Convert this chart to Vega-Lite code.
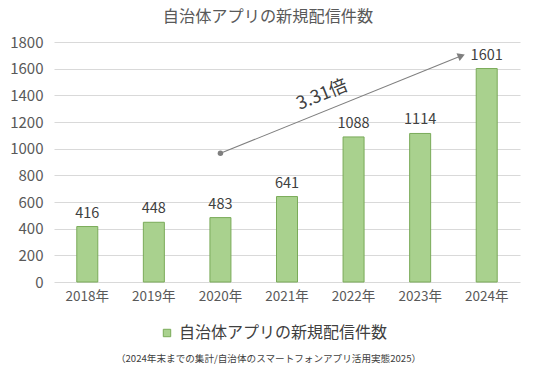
{
  "$schema": "https://vega.github.io/schema/vega-lite/v6.json",
  "autosize": "none",
  "width": 466,
  "height": 240,
  "padding": {"left": 54, "top": 42, "right": 16, "bottom": 85},
  "background": "white",
  "config": {
    "font": "Noto Sans CJK JP",
    "view": {"stroke": null},
    "axis": {"labelColor": "#595959", "labelFont": "Noto Sans CJK JP", "titleFont": "Noto Sans CJK JP"}
  },
  "title": {
    "text": "自治体アプリの新規配信件数",
    "fontSize": 16.2,
    "fontWeight": "normal",
    "color": "#595959",
    "offset": 10,
    "dx": -19,
    "anchor": "middle"
  },
  "resolve": {"scale": {"x": "independent"}, "axis": {"y": "independent"}},
  "layer": [
    {
      "data": {
        "values": [
          {"year": "2018年", "count": 416, "series": "自治体アプリの新規配信件数"},
          {"year": "2019年", "count": 448, "series": "自治体アプリの新規配信件数"},
          {"year": "2020年", "count": 483, "series": "自治体アプリの新規配信件数"},
          {"year": "2021年", "count": 641, "series": "自治体アプリの新規配信件数"},
          {"year": "2022年", "count": 1088, "series": "自治体アプリの新規配信件数"},
          {"year": "2023年", "count": 1114, "series": "自治体アプリの新規配信件数"},
          {"year": "2024年", "count": 1601, "series": "自治体アプリの新規配信件数"}
        ]
      },
      "encoding": {
        "x": {
          "field": "year", "type": "nominal", "sort": null,
          "scale": {"paddingInner": 0, "paddingOuter": 0},
          "axis": {
            "labelAngle": 0, "labelFontSize": 13.5, "labelPadding": 7,
            "ticks": false, "domain": false, "grid": false,
            "title": "（2024年末までの集計/自治体のスマートフォンアプリ活用実態2025）",
            "titleFontSize": 9.6, "titleFontWeight": "normal", "titleColor": "#404040",
            "titleX": 214, "titleY": 76, "titleBaseline": "middle", "titleAnchor": "middle", "titleAlign": "center"
          }
        },
        "y": {
          "field": "count", "type": "quantitative",
          "scale": {"domain": [0, 1800], "nice": false},
          "axis": {
            "values": [0, 200, 400, 600, 800, 1000, 1200, 1400, 1600, 1800],
            "format": "d", "labelOverlap": false,
            "title": null, "labelFontSize": 15, "labelPadding": 11,
            "ticks": false, "domain": false,
            "gridColor": "#d9d9d9", "gridWidth": 1
          }
        }
      },
      "layer": [
        {
          "mark": {"type": "bar", "width": 21, "stroke": "#7aab59", "strokeWidth": 1},
          "encoding": {
            "color": {
              "field": "series", "type": "nominal",
              "scale": {"range": ["#a9d18e"]},
              "legend": {
                "title": null, "orient": "none", "legendX": 105, "legendY": 283,
                "labelFontSize": 16, "labelColor": "#404040", "symbolType": "square",
                "symbolSize": 55, "symbolStrokeColor": "#7aab59", "symbolStrokeWidth": 1,
                "labelLimit": 400, "padding": 0
              }
            }
          }
        },
        {
          "mark": {"type": "text", "baseline": "bottom", "dy": -6, "fontSize": 14.5, "color": "#404040"},
          "encoding": {"text": {"field": "count", "type": "quantitative", "format": "d"}}
        }
      ]
    },
    {
      "data": {"values": [{"x": 2.5, "y": 965, "x2": 6.12, "y2": 1697, "label": "3.31倍", "lx": 4.03, "ly": 1400}]},
      "encoding": {
        "x": {"type": "quantitative", "scale": {"domain": [0, 7], "nice": false, "zero": false}, "axis": null}
      },
      "layer": [
        {
          "mark": {"type": "rule", "color": "#7f7f7f", "strokeWidth": 1.1},
          "encoding": {
            "x": {"field": "x", "type": "quantitative"},
            "y": {"field": "y", "type": "quantitative", "axis": null},
            "x2": {"field": "x2"},
            "y2": {"field": "y2"}
          }
        },
        {
          "mark": {"type": "point", "shape": "circle", "filled": true, "size": 30, "color": "#7f7f7f", "opacity": 1},
          "encoding": {
            "x": {"field": "x", "type": "quantitative"},
            "y": {"field": "y", "type": "quantitative", "axis": null}
          }
        },
        {
          "mark": {"type": "point", "shape": "triangle-right", "filled": true, "size": 70, "color": "#7f7f7f", "opacity": 1, "angle": -22},
          "encoding": {
            "x": {"field": "x2", "type": "quantitative"},
            "y": {"field": "y2", "type": "quantitative", "axis": null}
          }
        },
        {
          "mark": {"type": "text", "fontSize": 18, "color": "#404040", "angle": -22, "align": "center", "baseline": "middle"},
          "encoding": {
            "x": {"field": "lx", "type": "quantitative"},
            "y": {"field": "ly", "type": "quantitative", "axis": null},
            "text": {"field": "label"}
          }
        }
      ]
    }
  ]
}
